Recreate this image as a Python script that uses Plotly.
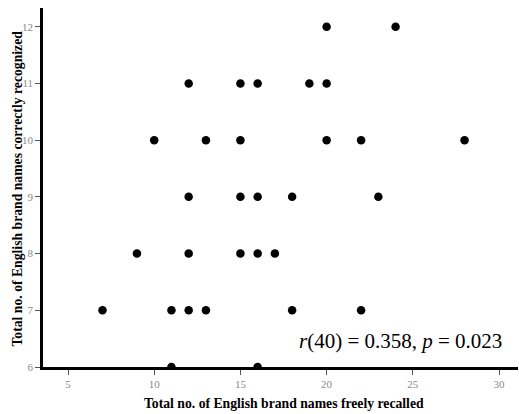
import plotly.graph_objects as go

# Data (free recall vs. correct recognition)
recalled = [20, 24,
            12, 15, 16, 19, 20,
            10, 13, 15, 20, 22, 28,
            12, 15, 16, 18, 23,
            9, 12, 15, 16, 17,
            7, 11, 12, 13, 18, 22,
            11, 16]
recognized = [12, 12,
              11, 11, 11, 11, 11,
              10, 10, 10, 10, 10, 10,
              9, 9, 9, 9, 9,
              8, 8, 8, 8, 8,
              7, 7, 7, 7, 7, 7,
              6, 6]
x_ticks = [5, 10, 15, 20, 25, 30]
y_ticks = [6, 7, 8, 9, 10, 11, 12]
x_title = "Total no. of English brand names freely recalled"
y_title = "Total no. of English brand names correctly recognized"
stat_text = "<i>r</i>(40) = 0.358, <i>p</i> = 0.023"

SERIF = "Liberation Serif, Times New Roman, serif"
TITLE_SIZE = 13.7

fig = go.Figure()
fig.add_trace(go.Scatter(
    x=recalled, y=recognized, mode="markers",
    marker=dict(size=8.5, color="black"),
    cliponaxis=True, showlegend=False, hoverinfo="x+y",
))

fig.update_layout(
    width=519, height=414,
    margin=dict(l=43, r=1, t=8, b=47),
    plot_bgcolor="white", paper_bgcolor="white",
    font=dict(family=SERIF, color="black"),
    xaxis=dict(
        range=[3.55, 31.1], tickvals=x_ticks, ticks="outside", ticklen=5,
        tickwidth=1, tickcolor="#555", showgrid=False, zeroline=False,
        showline=True, linecolor="black", linewidth=2.5,
        tickfont=dict(family=SERIF, size=11, color="#888"),
    ),
    yaxis=dict(
        range=[6, 12.33], tickvals=y_ticks, ticks="outside", ticklen=5,
        tickwidth=1, tickcolor="#555", showgrid=False, zeroline=False,
        showline=True, linecolor="black", linewidth=2.5,
        tickfont=dict(family=SERIF, size=11, color="#888"),
    ),
    annotations=[
        dict(x=30.3, y=6.46, xref="x", yref="y", xanchor="right", yanchor="middle",
             text=stat_text, showarrow=False,
             font=dict(family=SERIF, size=21, color="black")),
        dict(x=0.5, y=0, xref="paper", yref="paper", xanchor="center", yanchor="middle",
             xshift=3, yshift=-36, text="<b>" + x_title + "</b>", showarrow=False,
             font=dict(family=SERIF, size=TITLE_SIZE, color="black")),
        dict(x=0, y=0.5, xref="paper", yref="paper", xanchor="center", yanchor="middle",
             xshift=-26, yshift=-1, textangle=-90, text="<b>" + y_title + "</b>",
             showarrow=False,
             font=dict(family=SERIF, size=TITLE_SIZE, color="black")),
    ],
)

fig.write_html("out.html")
